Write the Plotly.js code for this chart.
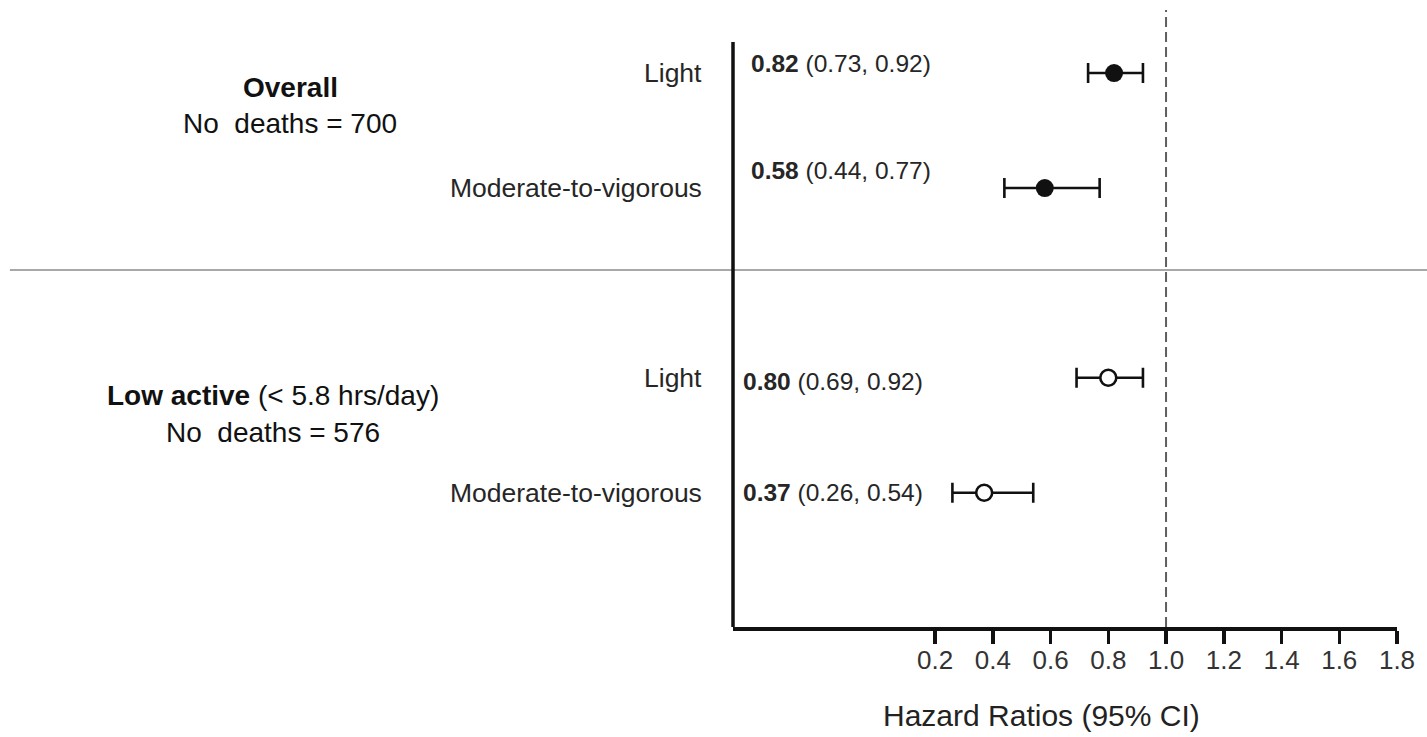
<!DOCTYPE html>
<html>
<head>
<meta charset="utf-8">
<script src="https://cdn.plot.ly/plotly-3.0.1.min.js"></script>
<style>
  html, body { margin: 0; padding: 0; background: #fff; }
  #chart { width: 1427px; height: 737px; }
</style>
</head>
<body>
<div id="chart"></div>
<script>
// Hazard ratios of mortality by activity intensity, two cohorts
const groupNames = ["Overall", "Low active"];
const groupNotes = ["", " (< 5.8 hrs/day)"];
const groupDeaths = [700, 576];

const levels = ["Light", "Moderate-to-vigorous", "Light", "Moderate-to-vigorous"];
const rowGroup = [0, 0, 1, 1];
const hr = [0.82, 0.58, 0.80, 0.37];
const ciLow = [0.73, 0.44, 0.69, 0.26];
const ciHigh = [0.92, 0.77, 0.92, 0.54];

const xTicks = [0.2, 0.4, 0.6, 0.8, 1.0, 1.2, 1.4, 1.6, 1.8];

// vertical row positions (one unit = one row step); groups are spread further apart
const rowPos = [0, 1, 2.65, 3.65];
// per-row nudges for the value labels (px)
const valueShiftY = [10, 18, -4, 0];
const valueShiftX = [16, 16, 8, 8];

const FONT = "Liberation Sans, Arial, Helvetica, sans-serif";
const TXT = "#262626";

function rowsOf(g) {
  return hr.map((_, i) => i).filter(i => rowGroup[i] === g);
}

function traceFor(g, filled) {
  const idx = rowsOf(g);
  return {
    type: "scatter",
    mode: "markers",
    x: idx.map(i => hr[i]),
    y: idx.map(i => rowPos[i]),
    cliponaxis: false,
    showlegend: false,
    hoverinfo: "skip",
    error_x: {
      type: "data",
      symmetric: false,
      array: idx.map(i => +(ciHigh[i] - hr[i]).toFixed(4)),
      arrayminus: idx.map(i => +(hr[i] - ciLow[i]).toFixed(4)),
      color: "#111",
      thickness: 2.6,
      width: 10
    },
    marker: filled
      ? { symbol: "circle", size: 18, color: "#111", line: { width: 0 } }
      : { symbol: "circle", size: 16, color: "#fff", line: { width: 2.6, color: "#111" } }
  };
}

const data = [traceFor(0, true), traceFor(1, false)];

const yTop = -0.548, yBottom = 4.817;

const annotations = [];

// activity level labels, right-aligned left of the axis
levels.forEach((lab, i) => {
  annotations.push({
    text: lab, xref: "paper", yref: "y", x: 0, y: rowPos[i],
    xanchor: "right", yanchor: "middle", xshift: -29,
    showarrow: false, font: { family: FONT, size: 26.5, color: TXT }
  });
});

// estimate and confidence interval text
hr.forEach((v, i) => {
  annotations.push({
    text: "<b>" + v.toFixed(2) + "</b> (" + ciLow[i].toFixed(2) + ", " + ciHigh[i].toFixed(2) + ")",
    xref: "paper", yref: "y", x: 0, y: rowPos[i],
    xanchor: "left", yanchor: "middle",
    xshift: valueShiftX[i], yshift: valueShiftY[i],
    showarrow: false, font: { family: FONT, size: 24.5, color: TXT }
  });
});

// cohort headings on the far left
const headX = [-0.667, -0.693];
const headY = [0.13, 2.80];
const deathsY = [0.435, 3.122];
groupNames.forEach((name, g) => {
  annotations.push({
    text: "<b>" + name + "</b>" + groupNotes[g],
    xref: "paper", yref: "y", x: headX[g], y: headY[g],
    xanchor: "center", yanchor: "middle",
    showarrow: false, font: { family: FONT, size: 28, color: "#111" }
  });
  annotations.push({
    text: "No\u00A0 deaths = " + groupDeaths[g],
    xref: "paper", yref: "y", x: headX[g], y: deathsY[g],
    xanchor: "center", yanchor: "middle",
    showarrow: false, font: { family: FONT, size: 28, color: "#111" }
  });
});

// axis title
annotations.push({
  text: "Hazard Ratios (95% CI)",
  xref: "paper", yref: "paper", x: 0.4639, y: -0.144,
  xanchor: "center", yanchor: "middle",
  showarrow: false, font: { family: FONT, size: 30, color: "#222" }
});

const shapes = [
  // reference line at HR = 1
  { type: "line", xref: "x", yref: "paper", x0: 1, x1: 1, y0: 0, y1: 1,
    line: { color: "#5e5e5e", width: 2, dash: "10px,5px" }, layer: "below" },
  // divider between the two cohorts
  { type: "line", xref: "paper", yref: "y", x0: -1.089, x1: 1.05, y0: 1.713, y1: 1.713,
    line: { color: "#a8a8a8", width: 2 }, layer: "below" },
  // vertical axis line
  { type: "line", xref: "paper", yref: "y", x0: 0, x1: 0, y0: -0.27, y1: yBottom,
    line: { color: "#111", width: 3.5 } }
];

const layout = {
  width: 1427,
  height: 737,
  margin: { l: 733, r: 30, t: 10, b: 110 },
  paper_bgcolor: "#fff",
  plot_bgcolor: "#fff",
  showlegend: false,
  font: { family: FONT, color: TXT },
  xaxis: {
    range: [-0.5, 1.8],
    tickvals: xTicks,
    tickformat: ".1f",
    ticks: "outside",
    ticklen: 13,
    tickwidth: 3.5,
    tickcolor: "#111",
    ticklabelstandoff: -6,
    showline: true,
    linecolor: "#111",
    linewidth: 3.5,
    showgrid: false,
    zeroline: false,
    tickfont: { family: FONT, size: 26, color: "#333" },
    fixedrange: true
  },
  yaxis: {
    range: [yBottom, yTop],
    showticklabels: false,
    ticks: "",
    showline: false,
    showgrid: false,
    zeroline: false,
    fixedrange: true
  },
  annotations: annotations,
  shapes: shapes
};

Plotly.newPlot("chart", data, layout, { displayModeBar: false, staticPlot: true });
</script>
</body>
</html>
